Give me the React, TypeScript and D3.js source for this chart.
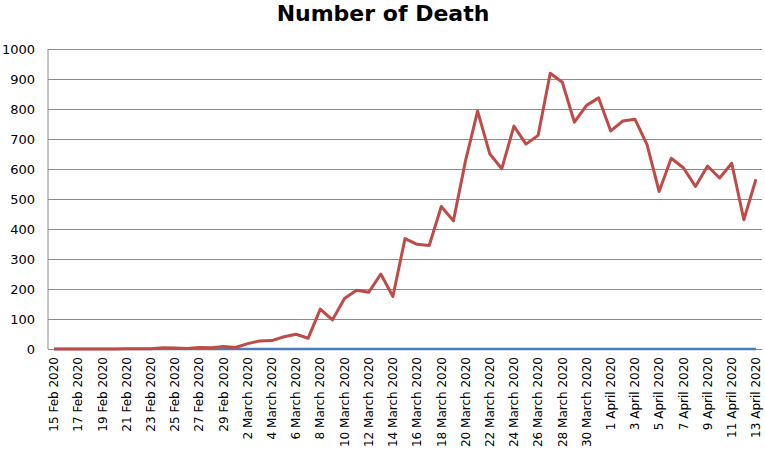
import React, { useEffect, useRef } from 'react';
import * as d3 from 'd3';

const dates = [
  '15 Feb 2020', '16 Feb 2020', '17 Feb 2020', '18 Feb 2020', '19 Feb 2020', '20 Feb 2020',
  '21 Feb 2020', '22 Feb 2020', '23 Feb 2020', '24 Feb 2020', '25 Feb 2020', '26 Feb 2020',
  '27 Feb 2020', '28 Feb 2020', '29 Feb 2020',
  '1 March 2020', '2 March 2020', '3 March 2020', '4 March 2020', '5 March 2020', '6 March 2020',
  '7 March 2020', '8 March 2020', '9 March 2020', '10 March 2020', '11 March 2020', '12 March 2020',
  '13 March 2020', '14 March 2020', '15 March 2020', '16 March 2020', '17 March 2020', '18 March 2020',
  '19 March 2020', '20 March 2020', '21 March 2020', '22 March 2020', '23 March 2020', '24 March 2020',
  '25 March 2020', '26 March 2020', '27 March 2020', '28 March 2020', '29 March 2020', '30 March 2020',
  '31 March 2020',
  '1 April 2020', '2 April 2020', '3 April 2020', '4 April 2020', '5 April 2020', '6 April 2020',
  '7 April 2020', '8 April 2020', '9 April 2020', '10 April 2020', '11 April 2020', '12 April 2020',
  '13 April 2020',
];

const deaths = [
  0, 0, 0, 0, 0, 0,
  1, 1, 1, 4, 3, 2, 5, 4, 8,
  5, 18, 27, 28, 41, 49, 36, 133, 97, 168, 196, 189, 250, 175, 368, 349,
  345, 475, 427, 627, 793, 651, 601, 743, 683, 712, 919, 889, 756, 812, 837,
  727, 760, 766, 681, 525, 636, 604, 542, 610, 570, 619, 431, 566,
];

const other = [
  0, 0, 0, 0, 0, 0, 0, 0, 0, 0, 0, 0, 0, 0, 0,
  0, 0, 0, 0, 0, 0, 0, 0, 0, 0, 0, 0, 0, 0, 0, 0,
  0, 0, 0, 0, 0, 0, 0, 0, 0, 0, 0, 0, 0, 0, 0,
  0, 0, 0, 0, 0, 0, 0, 0, 0, 0, 0, 0, 0,
];

const yTicks = [0, 100, 200, 300, 400, 500, 600, 700, 800, 900, 1000];

const width = 765;
const height = 460;

export default function App() {
  const svgRef = useRef<SVGSVGElement>(null);

  useEffect(() => {
    if (!svgRef.current) return;
    const svg = d3.select(svgRef.current);
    svg.selectAll('*').remove();

    const left = 48;
    const right = 762;
    const top = 49;
    const bottom = 349;

    const x = d3.scalePoint<string>().domain(dates).range([left, right]).padding(0.5);
    const y = d3.scaleLinear().domain([0, 1000]).range([bottom, top]);

    // title
    svg.append('text')
      .attr('x', 383)
      .attr('y', 21)
      .attr('text-anchor', 'middle')
      .attr('font-family', 'DejaVu Sans, Verdana, sans-serif')
      .attr('font-weight', 'bold')
      .attr('font-size', '22px')
      .attr('fill', '#000')
      .text('Number of Death');

    // grid
    svg.append('g')
      .attr('transform', `translate(${left},0)`)
      .call(d3.axisLeft(y).tickValues(yTicks).tickSize(-(right - left)).tickFormat(() => ''))
      .call((g) => g.select('.domain').remove())
      .selectAll('line')
      .attr('stroke', '#8c8c8c')
      .attr('stroke-width', 1);

    // y axis line
    svg.append('line')
      .attr('x1', left).attr('x2', left)
      .attr('y1', top).attr('y2', bottom)
      .attr('stroke', '#8c8c8c');

    svg.append('g')
      .selectAll('text')
      .data(yTicks)
      .join('text')
      .attr('x', 35)
      .attr('y', (d) => y(d))
      .attr('dy', '0.35em')
      .attr('text-anchor', 'end')
      .attr('font-family', 'DejaVu Sans, Verdana, sans-serif')
      .attr('font-size', '13px')
      .attr('fill', '#000')
      .text((d) => String(d));

    // x labels every other day
    svg.append('g')
      .selectAll('text')
      .data(dates.filter((_, i) => i % 2 === 0))
      .join('text')
      .attr('transform', (d) => `translate(${x(d)},${bottom + 8}) rotate(-90)`)
      .attr('dy', '0.35em')
      .attr('text-anchor', 'end')
      .attr('font-family', 'DejaVu Sans, Verdana, sans-serif')
      .attr('font-size', '12px')
      .attr('fill', '#000')
      .text((d) => d);

    const line = d3.line<number>()
      .x((_, i) => x(dates[i]) as number)
      .y((d) => y(d));

    svg.append('path')
      .attr('d', line(other))
      .attr('fill', 'none')
      .attr('stroke', '#4a7ebb')
      .attr('stroke-width', 2.5);

    svg.append('path')
      .attr('d', line(deaths))
      .attr('fill', 'none')
      .attr('stroke', '#be4b48')
      .attr('stroke-width', 3)
      .attr('stroke-linejoin', 'round');
  }, []);

  return (
    <svg
      ref={svgRef}
      width={width}
      height={height}
      style={{ position: 'absolute', left: 0, top: 0, background: '#fff' }}
    />
  );
}
